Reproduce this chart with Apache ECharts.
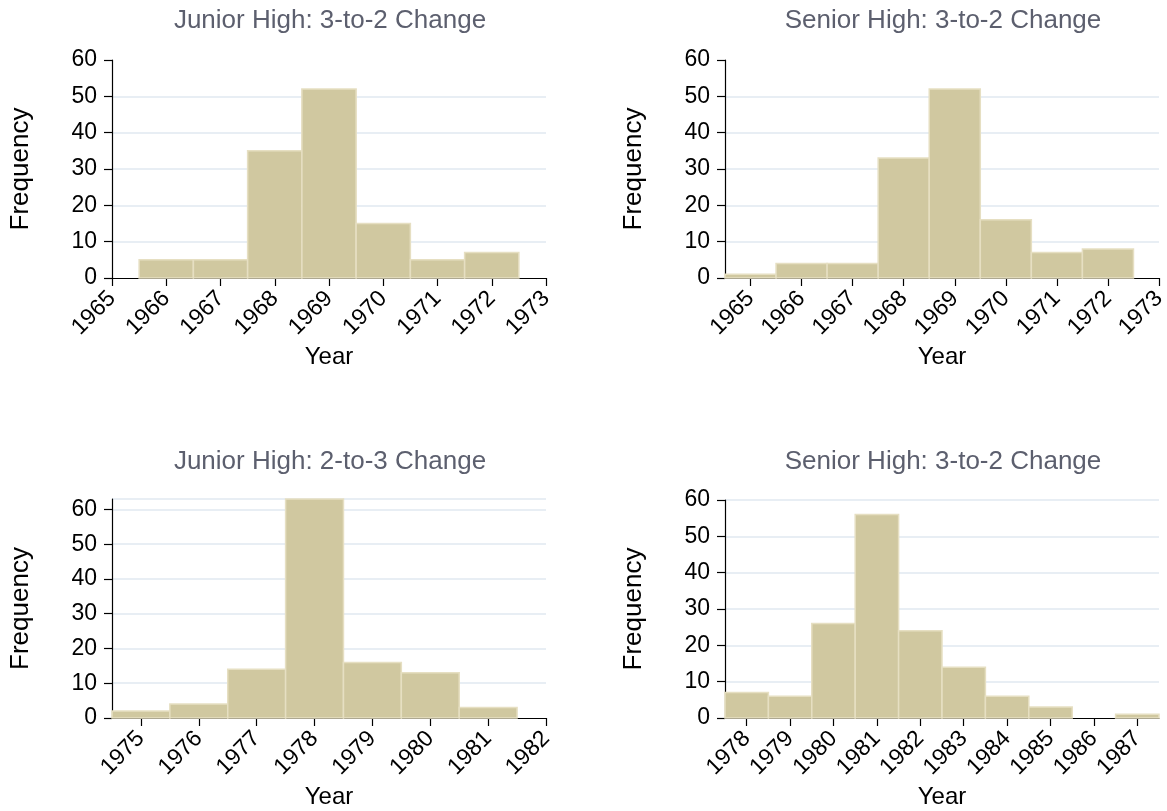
<!DOCTYPE html>
<html>
<head>
<meta charset="utf-8">
<script src="https://cdn.jsdelivr.net/npm/echarts@6/dist/echarts.min.js"></script>
<style>
  html, body { margin: 0; padding: 0; background: #fff; }
  #chart { width: 1167px; height: 811px; }
</style>
</head>
<body>
<div id="chart"></div>
<script>
// panel titles
const titles = [
    'Junior High: 3-to-2 Change',
    'Senior High: 3-to-2 Change',
    'Junior High: 2-to-3 Change',
    'Senior High: 3-to-2 Change'
];

// years (bin centres) and counts for each histogram
const yearsJH32 = [1966, 1967, 1968, 1969, 1970, 1971, 1972];
const countsJH32 = [5, 5, 35, 52, 15, 5, 7];

const yearsSH32 = [1965, 1966, 1967, 1968, 1969, 1970, 1971, 1972];
const countsSH32 = [1, 4, 4, 33, 52, 16, 7, 8];

const yearsJH23 = [1975, 1976, 1977, 1978, 1979, 1980, 1981];
const countsJH23 = [2, 4, 14, 63, 16, 13, 3];

const yearsSH32b = [1978, 1979, 1980, 1981, 1982, 1983, 1984, 1985, 1986, 1987];
const countsSH32b = [7, 6, 26, 56, 24, 14, 6, 3, 0, 1];

// x tick labels
const ticksJH32 = [1965, 1966, 1967, 1968, 1969, 1970, 1971, 1972, 1973];
const ticksSH32 = [1965, 1966, 1967, 1968, 1969, 1970, 1971, 1972, 1973];
const ticksJH23 = [1975, 1976, 1977, 1978, 1979, 1980, 1981, 1982];
const ticksSH32b = [1978, 1979, 1980, 1981, 1982, 1983, 1984, 1985, 1986, 1987];

const panels = [
    { years: yearsJH32, counts: countsJH32, ticks: ticksJH32, xMin: 1965, xMax: 1973, yMax: 60, maxLine: false,
      grid: { left: 112, right: 621, top: 60, bottom: 533 }, titleX: 325, titleY: 3 },
    { years: yearsSH32, counts: countsSH32, ticks: ticksSH32, xMin: 1964.5, xMax: 1973, yMax: 60, maxLine: false,
      grid: { left: 725, right: 8, top: 60, bottom: 533 }, titleX: 938, titleY: 3 },
    { years: yearsJH23, counts: countsJH23, ticks: ticksJH23, xMin: 1974.5, xMax: 1982, yMax: 63, maxLine: true,
      grid: { left: 112, right: 621, top: 499, bottom: 93 }, titleX: 325, titleY: 444 },
    { years: yearsSH32b, counts: countsSH32b, ticks: ticksSH32b, xMin: 1977.5, xMax: 1987.5, yMax: 60, maxLine: true,
      grid: { left: 725, right: 8, top: 500, bottom: 93 }, titleX: 938, titleY: 444 }
];

const font = 'Liberation Sans, Arial, sans-serif';
const myChart = echarts.init(document.getElementById('chart'));

let title = [], grid = [], xAxis = [], yAxis = [], series = [];
panels.forEach(function (p, i) {
    title.push({
        text: titles[i],
        left: p.titleX,
        top: p.titleY,
        textAlign: 'center',
        textStyle: { fontFamily: font, fontSize: 26, fontWeight: 'normal', color: '#5c5f6e' }
    });
    grid.push(Object.assign({ outerBoundsMode: 'none', containLabel: false }, p.grid));
    xAxis.push({
        gridIndex: i,
        type: 'value',
        min: p.xMin,
        max: p.xMax,
        name: 'Year',
        nameLocation: 'middle',
        nameGap: 67,
        nameTextStyle: { fontFamily: font, fontSize: 24, color: '#000' },
        axisLine: { show: true, lineStyle: { color: '#000', width: 1.2 } },
        axisTick: { show: true, length: 8, customValues: p.ticks, lineStyle: { color: '#000', width: 1.2 } },
        axisLabel: {
            customValues: p.ticks,
            rotate: 45,
            margin: 17,
            fontFamily: font,
            fontSize: 23,
            color: '#000',
            formatter: function (v) { return String(v); }
        },
        splitLine: { show: false }
    });
    yAxis.push({
        gridIndex: i,
        type: 'value',
        min: 0,
        max: p.yMax,
        interval: 10,
        name: 'Frequency',
        nameLocation: 'middle',
        nameGap: 78,
        nameTextStyle: { fontFamily: font, fontSize: 26, color: '#000' },
        axisLine: { show: true, lineStyle: { color: '#000', width: 1.2 } },
        axisTick: { show: true, length: 8, lineStyle: { color: '#000', width: 1.2 } },
        axisLabel: { margin: 15, fontFamily: font, fontSize: 23, color: '#000' },
        splitLine: { show: true, showMinLine: false, showMaxLine: p.maxLine, lineStyle: { color: '#e8eef4', width: 2 } }
    });
    series.push({
        type: 'custom',
        xAxisIndex: i,
        yAxisIndex: i,
        data: p.years.map(function (y, k) { return [y, p.counts[k]]; }),
        renderItem: function (params, api) {
            const yr = api.value(0);
            const c = api.value(1);
            if (!c) return;
            const p0 = api.coord([yr - 0.5, c]);
            const p1 = api.coord([yr + 0.5, 0]);
            return {
                type: 'rect',
                shape: { x: p0[0], y: p0[1], width: p1[0] - p0[0], height: p1[1] - p0[1] },
                style: { fill: '#d0c8a0', stroke: '#e6dfc2', lineWidth: 1.5 }
            };
        },
        z: 1
    });
});

const option = {
    animation: false,
    title: title,
    grid: grid,
    xAxis: xAxis,
    yAxis: yAxis,
    series: series
};
myChart.setOption(option);
</script>
</body>
</html>
